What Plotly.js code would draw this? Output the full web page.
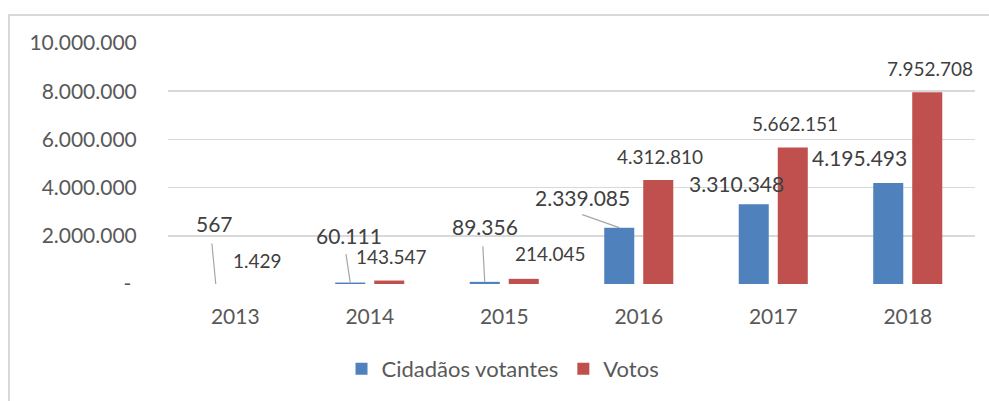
<!DOCTYPE html>
<html>
<head>
<meta charset="utf-8">
<script src="https://cdn.plot.ly/plotly-3.0.1.min.js"></script>
<style>
  html, body { margin: 0; padding: 0; background: #ffffff; }
  #wrap { position: relative; width: 989px; height: 401px; overflow: hidden; }
  #frame { position: absolute; left: 8px; top: 14px; width: 990px; height: 400px;
           border-top: 2px solid #d9d9d9; border-left: 2px solid #d9d9d9; box-sizing: border-box; }
  #chart { position: absolute; left: 0; top: 0; width: 989px; height: 401px; }
</style>
</head>
<body>
<div id="wrap">
  <div id="frame"></div>
  <div id="chart"></div>
</div>
<script>
// ---- data ----
const years = ['2013', '2014', '2015', '2016', '2017', '2018'];
const seriesNames = ['Cidadãos votantes', 'Votos'];
const cidadaosVotantes = [567, 60111, 89356, 2339085, 3310348, 4195493];
const votos = [1429, 143547, 214045, 4312810, 5662151, 7952708];
const yTickValues = [0, 2000000, 4000000, 6000000, 8000000, 10000000];
const yTickLabels = ['-\u00a0', '2.000.000', '4.000.000', '6.000.000', '8.000.000', '10.000.000'];

// ---- label placement (pixels, relative to category centre / value) ----
const blueLabelShift = [[-21, 60], [-21, 47.5], [-19, 55], [-56, 30.5], [-37, 21], [-48, 25.6]];
const redLabelShift = [[22, 23.5], [22, 24.5], [46, 25], [21, 24], [22, 24], [22, 24]];
const blueLeaders = [[-4, -42], [-4.5, -30], [-2, -37], [-38.5, -13.5], null, null];

const fmt = v => String(v).replace(/\B(?=(\d{3})+(?!\d))/g, '.');

const FONT = 'Lato, "Open Sans", "DejaVu Sans", sans-serif';
const W = 989, H = 401;
const margin = { l: 168, r: 14, t: 43, b: 116, pad: 0 };
const bargap = 0.42;
const catW = (W - margin.l - margin.r) / years.length;
const barOffset = catW * (1 - bargap) / 4;

const traces = [
  { type: 'bar', x: years, y: cidadaosVotantes, name: seriesNames[0],
    marker: { color: '#4f81bd' }, hoverinfo: 'skip' },
  { type: 'bar', x: years, y: votos, name: seriesNames[1],
    marker: { color: '#c0504d' }, hoverinfo: 'skip' }
];

const annotations = [];
years.forEach((yr, i) => {
  annotations.push({
    x: i, y: cidadaosVotantes[i], xref: 'x', yref: 'y',
    text: fmt(cidadaosVotantes[i]), showarrow: false,
    xshift: blueLabelShift[i][0], yshift: blueLabelShift[i][1],
    xanchor: 'center', yanchor: 'middle',
    font: { family: FONT, size: 21, color: '#404040' }
  });
  annotations.push({
    x: i, y: votos[i], xref: 'x', yref: 'y',
    text: fmt(votos[i]), showarrow: false,
    xshift: redLabelShift[i][0], yshift: redLabelShift[i][1],
    xanchor: 'center', yanchor: 'middle',
    font: { family: FONT, size: 19, color: '#404040' }
  });
  if (blueLeaders[i]) {
    annotations.push({
      x: i, y: cidadaosVotantes[i], xref: 'x', yref: 'y',
      text: '', showarrow: true, arrowhead: 0, arrowwidth: 1.2, arrowcolor: '#a6a6a6',
      standoff: 0, startstandoff: 0,
      xshift: -barOffset, ax: blueLeaders[i][0], ay: blueLeaders[i][1]
    });
  }
});

const layout = {
  width: W, height: H,
  margin: margin,
  paper_bgcolor: 'rgba(0,0,0,0)',
  plot_bgcolor: 'rgba(0,0,0,0)',
  font: { family: FONT, size: 21, color: '#595959' },
  barmode: 'group',
  bargap: bargap,
  bargroupgap: 0.23,
  showlegend: true,
  legend: {
    orientation: 'h', x: 0.215, xanchor: 'left', y: -0.347, yanchor: 'middle',
    font: { family: FONT, size: 22, color: '#595959' },
    bgcolor: 'rgba(0,0,0,0)', traceorder: 'normal'
  },
  xaxis: {
    type: 'category', range: [-0.5, years.length - 0.5], autorange: false,
    showgrid: false, zeroline: false, showline: false,
    ticks: 'outside', ticklen: 14, tickcolor: 'rgba(0,0,0,0)',
    tickfont: { family: FONT, size: 21, color: '#595959' }
  },
  yaxis: {
    range: [0, 10000000], autorange: false, tickvals: yTickValues, ticktext: yTickLabels,
    showgrid: true, gridcolor: '#d9d9d9', gridwidth: 1.5,
    zeroline: false, showline: false,
    ticks: 'outside', ticklen: 26, tickcolor: 'rgba(0,0,0,0)',
    tickfont: { family: FONT, size: 21, color: '#595959' }
  },
  annotations: annotations
};

Plotly.newPlot('chart', traces, layout, { displayModeBar: false, staticPlot: true });
</script>
</body>
</html>
